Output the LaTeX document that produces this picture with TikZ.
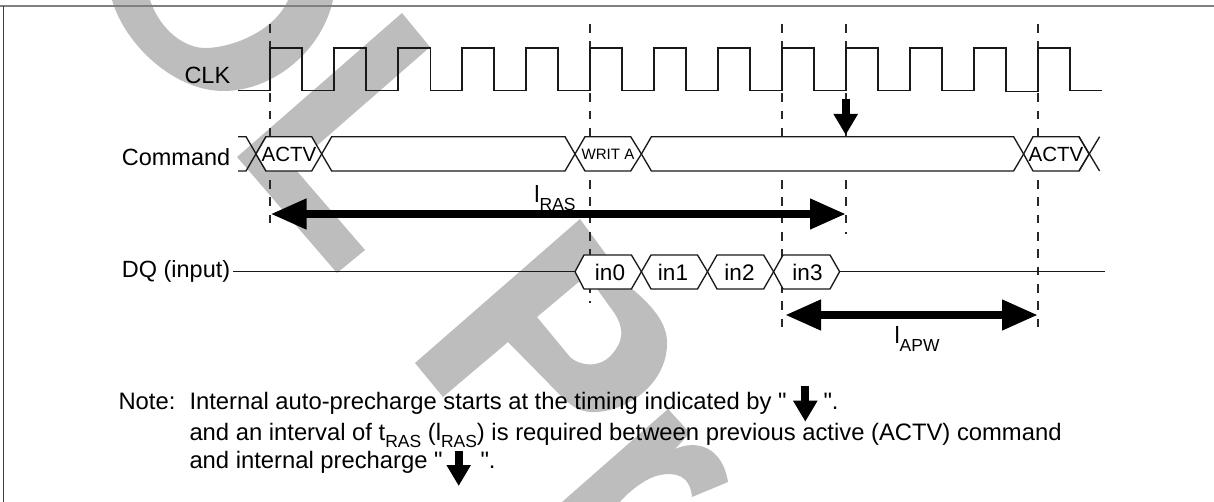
\documentclass[tikz,border=0pt]{standalone}
\usepackage{fontspec}
\setmainfont{Liberation Sans}
\newfontfamily\plainfont{Liberation Sans}
\usetikzlibrary{arrows.meta}

\tikzset{every picture/.style={line width=0.75pt}}
\tikzset{
	wm/.style={fill={rgb, 255:red, 189; green, 189; blue, 189 }, draw=none},
	wave/.style={line width=1pt, draw={rgb, 255:red, 25; green, 25; blue, 25 }},
	sigbox/.style={wave, fill=white},
	guide/.style={line width=0.8pt, draw={rgb, 255:red, 40; green, 40; blue, 40 }, dash pattern=on 6.5pt off 6.5pt},
	spanarrow/.style={line width=6.2pt, {Triangle[length=27pt,width=21.5pt]}-{Triangle[length=27pt,width=21.5pt]}},
	downarrow/.style={line width=6pt, -{Triangle[length=15.75pt,width=17.25pt]}},
	sigtext/.style={anchor=base east, inner sep=0pt, font=\fontsize{17.6}{20}\selectfont},
	notetext/.style={anchor=base west, inner sep=0pt, font=\plainfont\fontsize{17.85}{20}\selectfont},
	boxtext/.style={inner sep=0pt, font=\fontsize{16.9}{20}\selectfont}
}
\newcommand{\subl}[1]{\raisebox{-0.32em}{\fontsize{13.1}{15}\selectfont #1}}

\begin{document}
\begin{tikzpicture}[x=0.75pt,y=0.75pt,yscale=-1,xscale=1]
	\useasboundingbox (0,0) rectangle (1214,502);

	%Shape: letter O
	\fill [wm] (112,0) .. controls (125,45) and (175,92) .. (225,91) .. controls (275,90) and (322,50) .. (333,0) -- (288,0) .. controls (275,30) and (235,47) .. (207,48) .. controls (185,49) and (160,30) .. (150,0) -- cycle ;
	%Shape: letter L
	\fill [wm] (402,13) -- (430,47) -- (293,166.5) -- (365,250) -- (337,273) -- (237,157) -- cycle ;
	%Shape: letter P
	\fill [wm, even odd rule] (580,219) -- (630,287) .. controls (655,308) and (668,325) .. (667,345) .. controls (666,385) and (625,413) .. (592,412) .. controls (578,412) and (568,403) .. (562,397) -- (508,342) -- (443,397) -- (415,363) -- cycle (537,317) -- (570,357) .. controls (578,365) and (600,370) .. (613,353) .. controls (628,335) and (620,320) .. (610,307) -- (587,275) -- cycle ;
	%Shape: letter r
	\fill [wm] (668,409) -- (690,433) -- (675,449) .. controls (695,440) and (722,445) .. (728,482) -- (692,497) .. controls (690,475) and (675,472) .. (660,475) .. controls (648,477) and (630,490) .. (620,502) -- (562,502) -- cycle ;

	%Straight Lines: frame
	\draw [line width=1.3pt, draw={rgb, 255:red, 128; green, 128; blue, 128 }] (0,5.8) -- (1214,5.8) ;
	\draw [draw={rgb, 255:red, 60; green, 60; blue, 60 }] (3.6,5.8) -- (3.6,502) ;

	%Straight Lines: guides
	\draw [guide] (270,24) -- (270,232) ;
	\draw [guide] (590,24) -- (590,303) ;
	\draw [guide] (782,24) -- (782,330) ;
	\draw [guide] (846,24) -- (846,234) ;
	\draw [guide] (1038,24) -- (1038,333) ;

	%Straight Lines: clock
	\draw [wave] (238,90.7) -- (270,90.7) -- (270,48) -- (302,48) -- (302,90.7) -- (334,90.7) -- (334,48) -- (366,48) -- (366,90.7) -- (398,90.7) -- (398,48) -- (430.5,48) -- (430.5,90.7) -- (462,90.7) -- (462,48) -- (494,48) -- (494,90.7) -- (526,90.7) -- (526,48) -- (558,48) -- (558,90.7) -- (590,90.7) -- (590,48) -- (622,48) -- (622,90.7) -- (654,90.7) -- (654,48) -- (686,48) -- (686,90.7) -- (718,90.7) -- (718,48) -- (750,48) -- (750,90.7) -- (782,90.7) -- (782,48) -- (814,48) -- (814,90.7) -- (846,90.7) -- (846,48) -- (878,48) -- (878,90.7) -- (910,90.7) -- (910,48) -- (942,48) -- (942,90.7) -- (974,90.7) -- (974,48) -- (1006,48) -- (1006,91.5) -- (1038,91.5) -- (1038,48) -- (1070,48) -- (1070,90.7) -- (1102,90.7) ;

	%Shape: command bus
	\draw [wave] (238,136.7) -- (246,136.7) -- (266,171) ;
	\draw [wave] (238,171) -- (246,171) -- (266,136.7) ;
	\draw [sigbox] (256,154) -- (266,136.7) -- (311.7,136.7) -- (321.7,154) -- (311.7,171) -- (266,171) -- cycle ;
	\draw [sigbox] (321.7,154) -- (331.7,136.7) -- (565,136.7) -- (575,154) -- (565,171) -- (331.7,171) -- cycle ;
	\draw [sigbox] (575,154) -- (585,136.7) -- (630.7,136.7) -- (641.4,154) -- (630.7,171) -- (585,171) -- cycle ;
	\draw [sigbox] (641.4,154) -- (651.4,136.7) -- (1013.6,136.7) -- (1023.6,154) -- (1013.6,171) -- (651.4,171) -- cycle ;
	\draw [sigbox] (1023.6,154) -- (1033,136.7) -- (1079,136.7) -- (1089,154) -- (1079,171) -- (1033,171) -- cycle ;
	\draw [wave] (1079,171) -- (1099.6,136.7) ;
	\draw [wave] (1079,136.7) -- (1099.6,171) ;

	%Shape: DQ bus
	\draw [wave] (233,271.7) -- (575,271.7) ;
	\draw [sigbox] (575,271.7) -- (584,255) -- (631.4,255) -- (641.4,271.7) -- (631.4,289) -- (584,289) -- cycle ;
	\draw [sigbox] (641.4,271.7) -- (651,255) -- (697.5,255) -- (707.5,271.7) -- (697.5,289) -- (651,289) -- cycle ;
	\draw [sigbox] (707.5,271.7) -- (717,255) -- (763.6,255) -- (773.6,271.7) -- (763.6,289) -- (717,289) -- cycle ;
	\draw [sigbox] (773.6,271.7) -- (783,255) -- (830,255) -- (839.6,271.7) -- (830,289) -- (783,289) -- cycle ;
	\draw [wave] (839.6,271.7) -- (1105,271.7) ;

	%Straight Lines: intervals
	\coordinate (rasstart) at (270.5,214) ;
	\coordinate (rasend) at (846,214) ;
	\coordinate (apwstart) at (785,315) ;
	\coordinate (apwend) at (1038,315) ;
	\draw [spanarrow] (rasstart) -- (rasend) ;
	\draw [spanarrow] (apwstart) -- (apwend) ;

	%Straight Lines: precharge marks
	\coordinate (marktop) at (845.7,99.3) ;
	\coordinate (marktip) at (845.7,135) ;
	\coordinate (notetop) at (805.3,386) ;
	\coordinate (notetip) at (805.3,421.7) ;
	\coordinate (lasttop) at (458.7,451) ;
	\coordinate (lasttip) at (458.7,486) ;
	\draw [downarrow] (marktop) -- (marktip) ;
	\draw [downarrow] (notetop) -- (notetip) ;
	\draw [downarrow] (lasttop) -- (lasttip) ;

	% Text Node
	\node [sigtext] (clklabel) at (230.7,83.3) {CLK};
	% Text Node
	\node [sigtext] (cmdlabel) at (230.7,165.7) {Command};
	% Text Node
	\node [sigtext] (dqlabel) at (230.7,277.7) {DQ (input)};
	% Text Node
	\node [boxtext, font=\fontsize{15.4}{18}\selectfont] (actvfirst) at (289,154) {ACTV};
	% Text Node
	\node [boxtext, font=\fontsize{11.3}{14}\selectfont] (writa) at (608,154) {WRIT A};
	% Text Node
	\node [boxtext, font=\fontsize{15.4}{18}\selectfont] (actvlast) at (1056,154) {ACTV};
	% Text Node
	\node [boxtext] (inzero) at (610,272) {in0};
	% Text Node
	\node [boxtext] (inone) at (673,272) {in1};
	% Text Node
	\node [boxtext] (intwo) at (739.5,272) {in2};
	% Text Node
	\node [boxtext] (inthree) at (807.5,272) {in3};
	% Text Node
	\node [sigtext, anchor=base] (raslabel) at (555,203) {l\subl{RAS}};
	% Text Node
	\node [sigtext, anchor=base] (apwlabel) at (917,344) {l\subl{APW}};
	% Text Node
	\node [notetext] (notehead) at (118,409) {Note:};
	% Text Node
	\node [notetext] (noteone) at (189,409) {Internal auto-precharge starts at the timing indicated by "};
	% Text Node
	\node [notetext] (noteoneend) at (823,409) {".};
	% Text Node
	\node [notetext] (notetwo) at (189,440) {and an interval of t\subl{RAS} (l\subl{RAS}) is required between previous active (ACTV) command};
	% Text Node
	\node [notetext] (notethree) at (189,468) {and internal precharge "};
	% Text Node
	\node [notetext] (notethreeend) at (480,468) {".};

\end{tikzpicture}
\end{document}
